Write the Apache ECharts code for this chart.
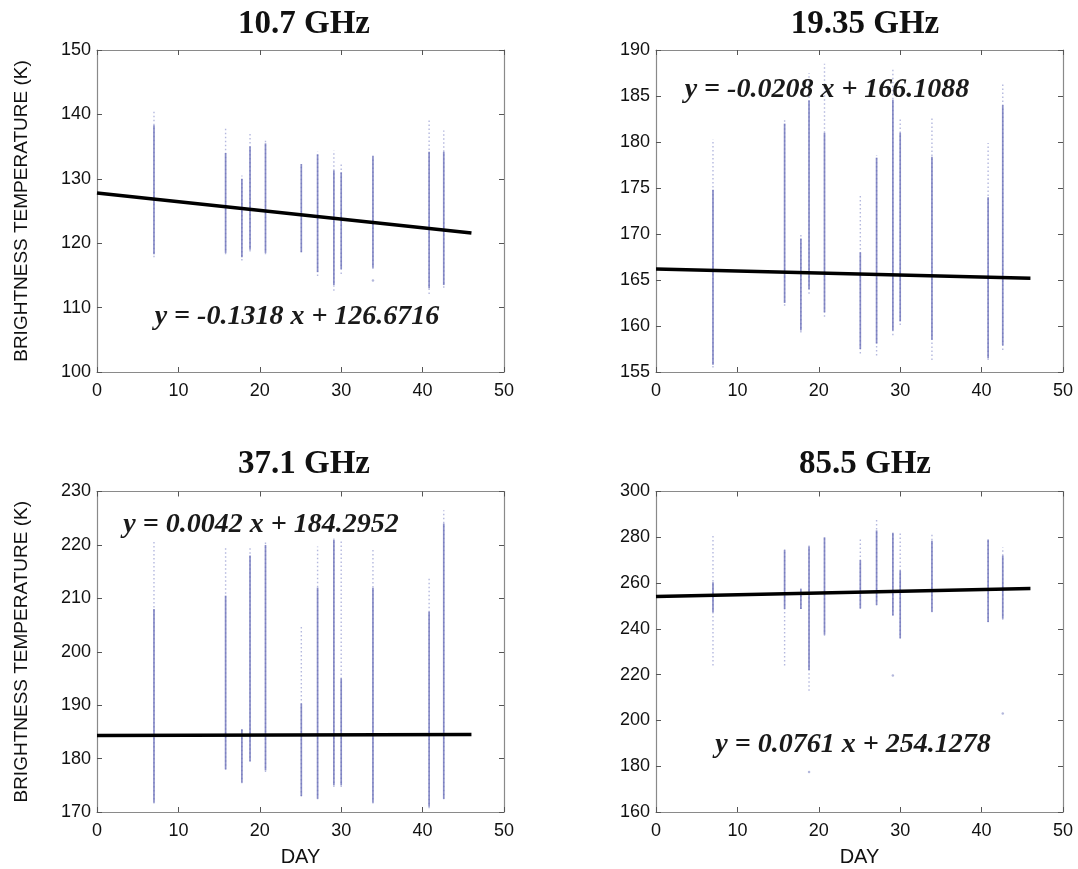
<!DOCTYPE html>
<html><head><meta charset="utf-8">
<script src="https://cdn.jsdelivr.net/npm/echarts@6/dist/echarts.min.js"></script>
<style>html,body{margin:0;padding:0;background:#fff}#c{width:1078px;height:869px}</style>
</head><body><div id="c"></div>
<script>
// ---- data ----
const titles = ['10.7 GHz', '19.35 GHz', '37.1 GHz', '85.5 GHz'];
const equations = ['y = -0.1318 x + 126.6716', 'y = -0.0208 x + 166.1088', 'y = 0.0042 x + 184.2952', 'y = 0.0761 x + 254.1278'];
const xTicks = [0, 10, 20, 30, 40, 50];
const days = [7, 15.8, 17.8, 18.8, 20.7, 25.1, 27.1, 29.1, 30, 33.9, 40.8, 42.6];

const yTicks1 = [100, 110, 120, 130, 140, 150];
const p1Lo = [117.8, 118.3, 117.3, 118.7, 118.3, 118.6, 114.9, 112.6, 115.2, 116.0, 112.1, 113.1];
const p1Hi = [140.4, 138.0, 130.5, 137.0, 136.2, 132.3, 134.2, 134.4, 132.3, 133.9, 139.1, 137.5];
const p1CoreLo = [118.3, 118.5, 117.8, 119.0, 118.5, 118.6, 115.5, 113.5, 116.0, 116.2, 113.0, 113.5];
const p1CoreHi = [138.3, 134.0, 130.0, 135.0, 135.5, 132.3, 133.8, 131.3, 131.0, 133.5, 134.2, 134.2];
const p1Out = [[33.9, 114.2]];
const p1Fit = [[0, 127.8], [46, 121.6]];

const yTicks2 = [155, 160, 165, 170, 175, 180, 185, 190];
const p2Lo = [155.5, 162.2, 159.3, 163.5, 161.0, 157.0, 156.8, 159.0, 160.1, 156.3, 156.3, 157.4];
const p2Hi = [180.3, 182.4, 170.0, 187.5, 188.5, 174.2, 178.6, 188.0, 182.6, 182.8, 179.9, 186.5];
const p2CoreLo = [155.8, 162.5, 159.5, 164.0, 161.5, 157.5, 158.1, 159.5, 160.5, 158.5, 156.5, 157.9];
const p2CoreHi = [174.8, 182.0, 169.5, 184.5, 181.0, 168.0, 178.3, 184.6, 181.0, 178.4, 174.0, 184.0];
const p2Out = [];
const p2Fit = [[0, 166.2], [46, 165.2]];

const yTicks3 = [170, 180, 190, 200, 210, 220, 230];
const p3Lo = [171.6, 177.9, 175.4, 179.4, 177.5, 172.9, 172.4, 174.7, 174.7, 171.6, 170.7, 172.4];
const p3Hi = [220.6, 219.4, 185.7, 219.4, 220.9, 205.0, 219.7, 221.2, 220.9, 219.4, 214.0, 226.5];
const p3CoreLo = [171.8, 178.0, 175.5, 179.5, 177.8, 173.0, 172.5, 175.0, 175.0, 171.8, 171.0, 172.5];
const p3CoreHi = [208.0, 210.5, 185.5, 218.0, 220.0, 190.3, 212.0, 221.0, 195.0, 212.0, 207.5, 224.0];
const p3Out = [];
const p3Fit = [[0, 184.3], [46, 184.5]];

const yTicks4 = [160, 180, 200, 220, 240, 260, 280, 300];
const p4Lo = [224.0, 224.0, 248.7, 213.0, 237.0, 248.7, 250.2, 245.8, 235.6, 247.3, 242.9, 244.0];
const p4Hi = [280.7, 274.9, 257.5, 276.4, 280.7, 279.3, 288.0, 282.2, 282.2, 282.2, 279.3, 275.6];
const p4CoreLo = [247.3, 248.7, 248.7, 222.0, 237.5, 249.0, 250.5, 245.8, 236.0, 247.5, 243.0, 244.5];
const p4CoreHi = [260.4, 274.5, 257.5, 276.0, 280.0, 270.0, 283.0, 282.0, 265.5, 278.5, 279.0, 272.0];
const p4Out = [[29.1, 219.6], [42.6, 203.0], [18.8, 177.5]];
const p4Fit = [[0, 254.1], [46, 257.6]];

// ---- layout ----
const panels = [
  {grid: {left: 97, top: 50, width: 407, height: 322}, yt: yTicks1, lo: p1Lo, hi: p1Hi, clo: p1CoreLo, chi: p1CoreHi, out: p1Out, fit: p1Fit,
   title: [304, 24], eq: [297, 317], yname: true, xname: false},
  {grid: {left: 656, top: 50, width: 407, height: 322}, yt: yTicks2, lo: p2Lo, hi: p2Hi, clo: p2CoreLo, chi: p2CoreHi, out: p2Out, fit: p2Fit,
   title: [865, 24], eq: [827, 90], yname: false, xname: false},
  {grid: {left: 97, top: 491.5, width: 407, height: 320.5}, yt: yTicks3, lo: p3Lo, hi: p3Hi, clo: p3CoreLo, chi: p3CoreHi, out: p3Out, fit: p3Fit,
   title: [304, 464], eq: [261, 525], yname: true, xname: true},
  {grid: {left: 656, top: 491.5, width: 407, height: 320.5}, yt: yTicks4, lo: p4Lo, hi: p4Hi, clo: p4CoreLo, chi: p4CoreHi, out: p4Out, fit: p4Fit,
   title: [865, 464], eq: [853, 745], yname: false, xname: true}
];

const axisColor = '#8a8a8a';
const labelStyle = {fontFamily: 'Liberation Sans', fontSize: 18, color: '#111'};

const grids = [], xAxes = [], yAxes = [], series = [], graphics = [];

function rangeRender(color, width, dash) {
  return function (params, api) {
    const p1 = api.coord([api.value(0), api.value(1)]);
    const p2 = api.coord([api.value(0), api.value(2)]);
    return {type: 'line', shape: {x1: p1[0], y1: p1[1], x2: p2[0], y2: p2[1]},
      style: {stroke: color, lineWidth: width, lineDash: dash}};
  };
}

panels.forEach((p, i) => {
  grids.push(Object.assign({containLabel: false, outerBoundsMode: 'none', show: false}, p.grid));
  const xmin = xTicks[0], xmax = xTicks[xTicks.length - 1];
  const ymin = p.yt[0], ymax = p.yt[p.yt.length - 1];
  const yint = p.yt[1] - p.yt[0];
  const common = {axisLine: {show: true, onZero: false, lineStyle: {color: axisColor, width: 1.2}},
    axisTick: {show: true, inside: true, length: 5, lineStyle: {color: '#555', width: 1}},
    splitLine: {show: false}};
  xAxes.push(Object.assign({type: 'value', gridIndex: i, position: 'bottom', min: xmin, max: xmax, interval: 10,
    axisLabel: Object.assign({margin: 10}, labelStyle)}, common));
  xAxes.push(Object.assign({type: 'value', gridIndex: i, position: 'top', min: xmin, max: xmax, interval: 10,
    axisLabel: {show: false}}, common));
  yAxes.push(Object.assign({type: 'value', gridIndex: i, position: 'left', min: ymin, max: ymax, interval: yint,
    axisLabel: Object.assign({margin: 6}, labelStyle)}, common));
  yAxes.push(Object.assign({type: 'value', gridIndex: i, position: 'right', min: ymin, max: ymax, interval: yint,
    axisLabel: {show: false}}, common));
  const xi = i * 2, yi = i * 2;
  series.push({type: 'custom', xAxisIndex: xi, yAxisIndex: yi, z: 2, silent: true,
    renderItem: rangeRender('rgba(130,136,200,0.6)', 1.4, [1.5, 2.5]),
    data: days.map((d, k) => [d, p.lo[k], p.hi[k]])});
  series.push({type: 'custom', xAxisIndex: xi, yAxisIndex: yi, z: 3, silent: true,
    renderItem: rangeRender('rgba(100,106,182,0.75)', 1.7, null),
    data: days.map((d, k) => [d, p.clo[k], p.chi[k]])});
  series.push({type: 'scatter', xAxisIndex: xi, yAxisIndex: yi, z: 3, silent: true, symbolSize: 2.5,
    itemStyle: {color: 'rgba(120,126,190,0.7)'}, data: p.out});
  series.push({type: 'line', xAxisIndex: xi, yAxisIndex: yi, z: 5, silent: true, symbol: 'none',
    lineStyle: {color: '#000', width: 3.5}, data: p.fit});

  graphics.push({type: 'text', x: p.title[0], y: p.title[1], z: 10,
    style: {text: titles[i], font: 'bold 33px "Liberation Serif"', fill: '#111', textAlign: 'center', textVerticalAlign: 'middle'}});
  graphics.push({type: 'text', x: p.eq[0], y: p.eq[1], z: 10,
    style: {text: equations[i], font: 'italic bold 28px "Liberation Serif"', fill: '#1a1a1a', textAlign: 'center', textVerticalAlign: 'middle'}});
  if (p.yname) {
    graphics.push({type: 'text', x: 22, y: p.grid.top + p.grid.height / 2, rotation: Math.PI / 2, z: 10,
      style: {text: 'BRIGHTNESS TEMPERATURE (K)', font: '19px "Liberation Sans"', fill: '#111', textAlign: 'center', textVerticalAlign: 'middle'}});
  }
  if (p.xname) {
    graphics.push({type: 'text', x: p.grid.left + p.grid.width / 2, y: 857, z: 10,
      style: {text: 'DAY', font: '20px "Liberation Sans"', fill: '#111', textAlign: 'center', textVerticalAlign: 'middle'}});
  }
});

const chart = echarts.init(document.getElementById('c'), null, {renderer: 'canvas'});
chart.setOption({
  animation: false,
  backgroundColor: '#fff',
  grid: grids, xAxis: xAxes, yAxis: yAxes, series: series, graphic: graphics
});
</script></body></html>
